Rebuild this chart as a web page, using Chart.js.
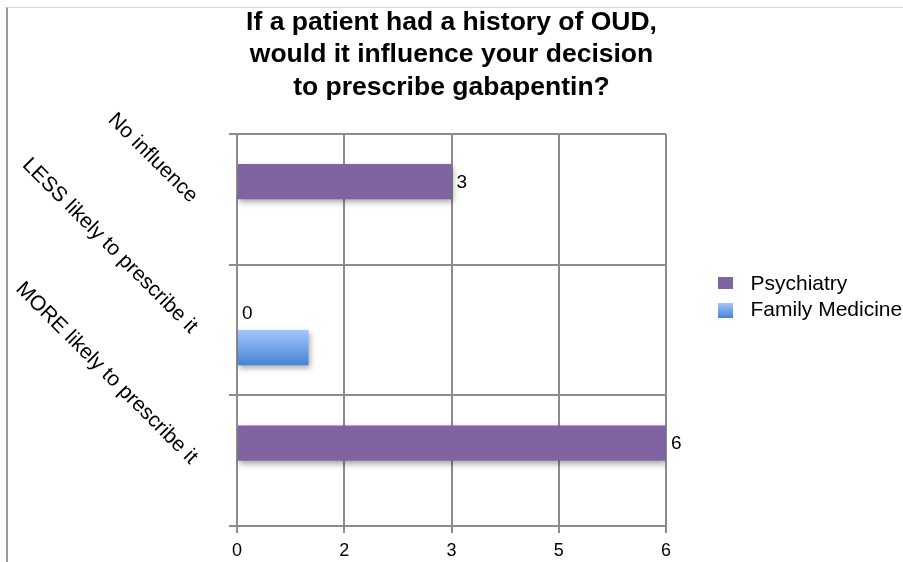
<!DOCTYPE html>
<html><head><meta charset="utf-8">
<script src="https://cdn.jsdelivr.net/npm/chart.js@4.4.1/dist/chart.umd.min.js"></script>
<style>
html,body{margin:0;padding:0;background:#fff;overflow:hidden}
#wrap{position:relative;width:903px;height:562px;overflow:hidden}
#frame{position:absolute;left:6px;top:7px;width:1000px;height:1000px;border-left:2px solid #9b9b9b;border-top:1px solid #d6d6d6;pointer-events:none}
canvas{display:block}
</style></head><body>
<div id="wrap"><canvas id="c" width="903" height="562"></canvas><div id="frame"></div></div>
<script>
// ---- data ----
const categories = ['No influence', 'LESS likely to prescribe it', 'MORE likely to prescribe it'];
const seriesNames = ['Psychiatry', 'Family Medicine'];
const psychiatry = [3, 0, 6];
const familyMedicine = [0, 1, 0];
const xTickLabels = ['0', '2', '3', '5', '6'];
const titleLines = ['If a patient had a history of OUD,', 'would it influence your decision', 'to prescribe gabapentin?'];

// ---- style ----
const PURPLE = '#8064a2';
const BLUE_TOP = '#a3c6fa';
const BLUE_BOT = '#4683d6';
const GRID = '#8c8c8c';
const FONT = '"Liberation Sans", Arial, Helvetica, sans-serif';
const LEG_X = 711, LEG_Y = 270, LEG_PAD = -3, LEG_BOX = 29, LEG_STROKE = 14;

Chart.defaults.font.family = FONT;
Chart.defaults.color = '#000';

function legendGradient(chart, i) {
  const top = LEG_Y + i * (LEG_BOX + LEG_PAD) + LEG_STROKE / 2;
  const g = chart.ctx.createLinearGradient(0, top, 0, top + LEG_BOX - LEG_STROKE);
  g.addColorStop(0, BLUE_TOP); g.addColorStop(1, BLUE_BOT);
  return g;
}

const placeLegend = {
  id: 'placeLegend',
  afterLayout(chart) {
    const lg = chart.legend;
    lg.left = LEG_X - LEG_PAD; lg.top = LEG_Y - LEG_PAD;
    lg.right = 903; lg.bottom = 562;
    lg.width = lg.right - lg.left; lg.height = lg.bottom - lg.top;
  }
};

const shadowAndLabels = {
  id: 'shadowAndLabels',
  beforeDatasetsDraw(chart) {
    const ctx = chart.ctx;
    ctx.save();
    ctx.shadowColor = 'rgba(0,0,0,0.35)';
    ctx.shadowBlur = 6;
    ctx.shadowOffsetX = 1;
    ctx.shadowOffsetY = 3;
  },
  afterDatasetsDraw(chart) {
    const ctx = chart.ctx;
    ctx.restore();
    const meta = chart.getDatasetMeta(0);
    ctx.save();
    ctx.font = '19px ' + FONT;
    ctx.fillStyle = '#000';
    ctx.textBaseline = 'middle';
    ctx.textAlign = 'left';
    meta.data.forEach((el, i) => ctx.fillText(String(psychiatry[i]), el.x + 5, el.y + 1));
    ctx.restore();
  }
};

const chart = new Chart(document.getElementById('c'), {
  type: 'bar',
  data: {
    labels: categories,
    datasets: [
      { label: seriesNames[0], data: psychiatry, backgroundColor: PURPLE,
        categoryPercentage: 0.54, barPercentage: 1 },
      { label: seriesNames[1], data: familyMedicine,
        backgroundColor: (c) => {
          const el = c.element;
          if (!el || el.y === undefined || !el.height) return '#6f9fe6';
          const g = c.chart.ctx.createLinearGradient(0, el.y - el.height / 2, 0, el.y + el.height / 2);
          g.addColorStop(0, BLUE_TOP); g.addColorStop(1, BLUE_BOT);
          return g;
        },
        categoryPercentage: 0.54, barPercentage: 1 }
    ]
  },
  options: {
    indexAxis: 'y',
    responsive: false,
    animation: false,
    devicePixelRatio: 1,
    layout: { padding: { left: 0, right: 0, top: 0, bottom: 0 } },
    plugins: {
      tooltip: { enabled: false },
      title: {
        display: true, text: titleLines, color: '#000',
        font: { size: 26.5, weight: 'bold', lineHeight: 1.23 },
        padding: { top: 6, bottom: 30.2 }
      },
      legend: {
        position: 'chartArea', align: 'start',
        labels: {
          boxWidth: LEG_BOX, boxHeight: LEG_BOX, padding: LEG_PAD, color: '#000',
          font: { size: 21 },
          generateLabels: (ch) => seriesNames.map((name, i) => ({
            text: name,
            fillStyle: i === 0 ? PURPLE : legendGradient(ch, i),
            strokeStyle: '#ffffff', lineWidth: LEG_STROKE,
            hidden: false, datasetIndex: i, fontColor: '#000'
          }))
        }
      }
    },
    scales: {
      x: {
        min: 0, max: 6,
        grid: { color: GRID, lineWidth: 2, tickLength: 7, tickColor: GRID },
        border: { color: GRID, width: 2 },
        ticks: { stepSize: 1.5, padding: 7, color: '#000', font: { size: 18 },
          callback: (v, i) => xTickLabels[i] },
        afterFit: (s) => { s.height = 36; }
      },
      y: {
        grid: { color: GRID, lineWidth: 2, tickLength: 8, tickColor: GRID, offset: true },
        border: { color: GRID, width: 2 },
        ticks: { padding: 35, color: '#000', font: { size: 21 },
          minRotation: -45, maxRotation: -45, autoSkip: false },
        afterFit: (s) => { s.width = 237; s.paddingTop = 0; s.paddingBottom = 0; }
      },
      legendSpace: {
        type: 'linear', axis: 'y', position: 'right', display: true,
        grid: { display: false, drawTicks: false }, border: { display: false },
        ticks: { display: false },
        afterFit: (s) => { s.width = 237; s.paddingTop = 0; s.paddingBottom = 0; }
      }
    }
  },
  plugins: [placeLegend, shadowAndLabels]
});
chart.update('none');
</script>
</body></html>
